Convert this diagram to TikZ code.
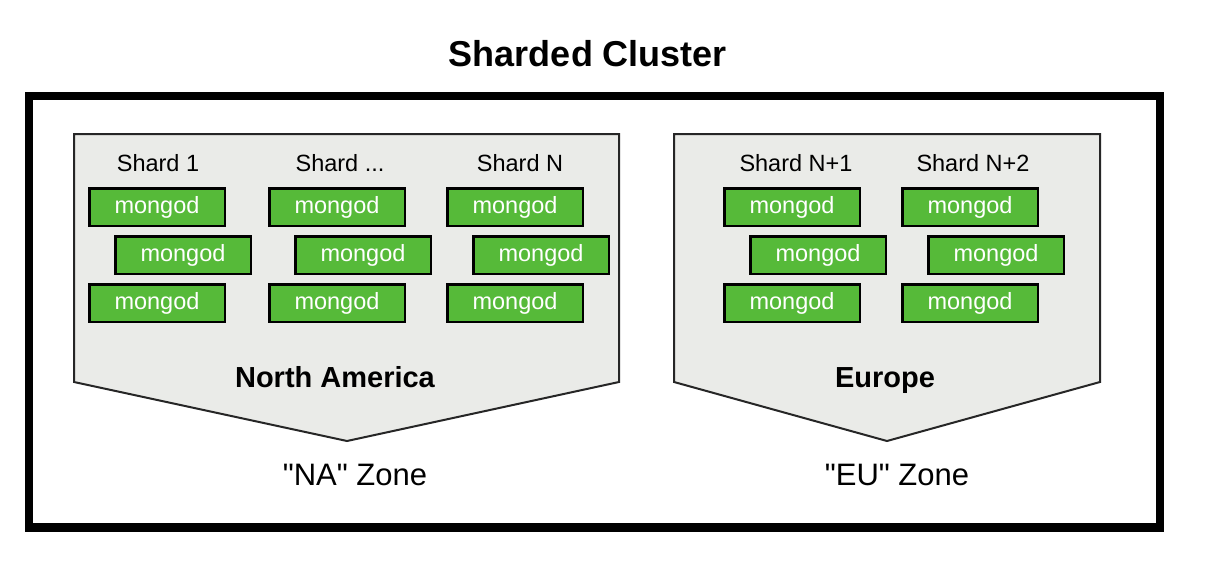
\documentclass[tikz,border=0pt]{standalone}
\usepackage{fontspec}
\setmainfont{Liberation Sans}
\usetikzlibrary{positioning}
\definecolor{mongogreen}{RGB}{86,186,57}
\definecolor{zonegray}{RGB}{234,235,232}
\tikzset{
	mongod/.style={draw=black,line width=2.5pt,fill=mongogreen,text=white,minimum width=135.5pt,minimum height=37.5pt,inner sep=0pt,font=\fontsize{23.5}{28}\selectfont},
	shardlabel/.style={anchor=base,inner sep=0pt,font=\fontsize{23.5}{28}\selectfont},
	zone/.style={draw=black!85,line width=2pt,fill=zonegray,line join=miter},
	region/.style={anchor=base,inner sep=0pt,font=\bfseries\fontsize{29}{34}\selectfont},
	zonelabel/.style={anchor=base,inner sep=0pt,font=\fontsize{31}{36}\selectfont},
	cluster/.style={draw=black,line width=8.3pt}
}
\begin{document}
\begin{tikzpicture}[x=1pt,y=-1pt]
			\useasboundingbox (0,0) rectangle (1208,576);
			\node[anchor=base,inner sep=0pt,font=\bfseries\fontsize{36}{42}\selectfont] (title) at (588,66) {Sharded Cluster};
			\draw[cluster] (29,95.8) rectangle (1159.7,527.5);
			
			% zones
			\draw[zone] (74,134) -- (619,134) -- (619,382) -- (347,441) -- (74,382) -- cycle;
			\draw[zone] (674,134) -- (1100,134) -- (1100,382) -- (887,441) -- (674,382) -- cycle;
			
			\node[shardlabel] (l1) at (158,171) {Shard 1};
			\node[shardlabel] (l2) at (340,171) {Shard ...};
			\node[shardlabel] (ln) at (520,171) {Shard N};
			\node[shardlabel] (ln1) at (796,171) {Shard N+1};
			\node[shardlabel] (ln2) at (973,171) {Shard N+2};
			
			\foreach \n/\x in {s1/157,s2/337,sn/515,sn1/792,sn2/970}{
				\node[mongod] (\n-a) at (\x,207) {mongod};
				\node[mongod] (\n-b) at (\x+26,255) {mongod};
				\node[mongod] (\n-c) at (\x,303) {mongod};
			}
			
			\node[region] (na) at (335,387) {North America};
			\node[region] (eu) at (885,387) {Europe};
			\node[zonelabel] (naz) at (355,485) {\textquotedbl NA\textquotedbl{} Zone};
			\node[zonelabel] (euz) at (897,485) {\textquotedbl EU\textquotedbl{} Zone};
		\end{tikzpicture}
\end{document}
